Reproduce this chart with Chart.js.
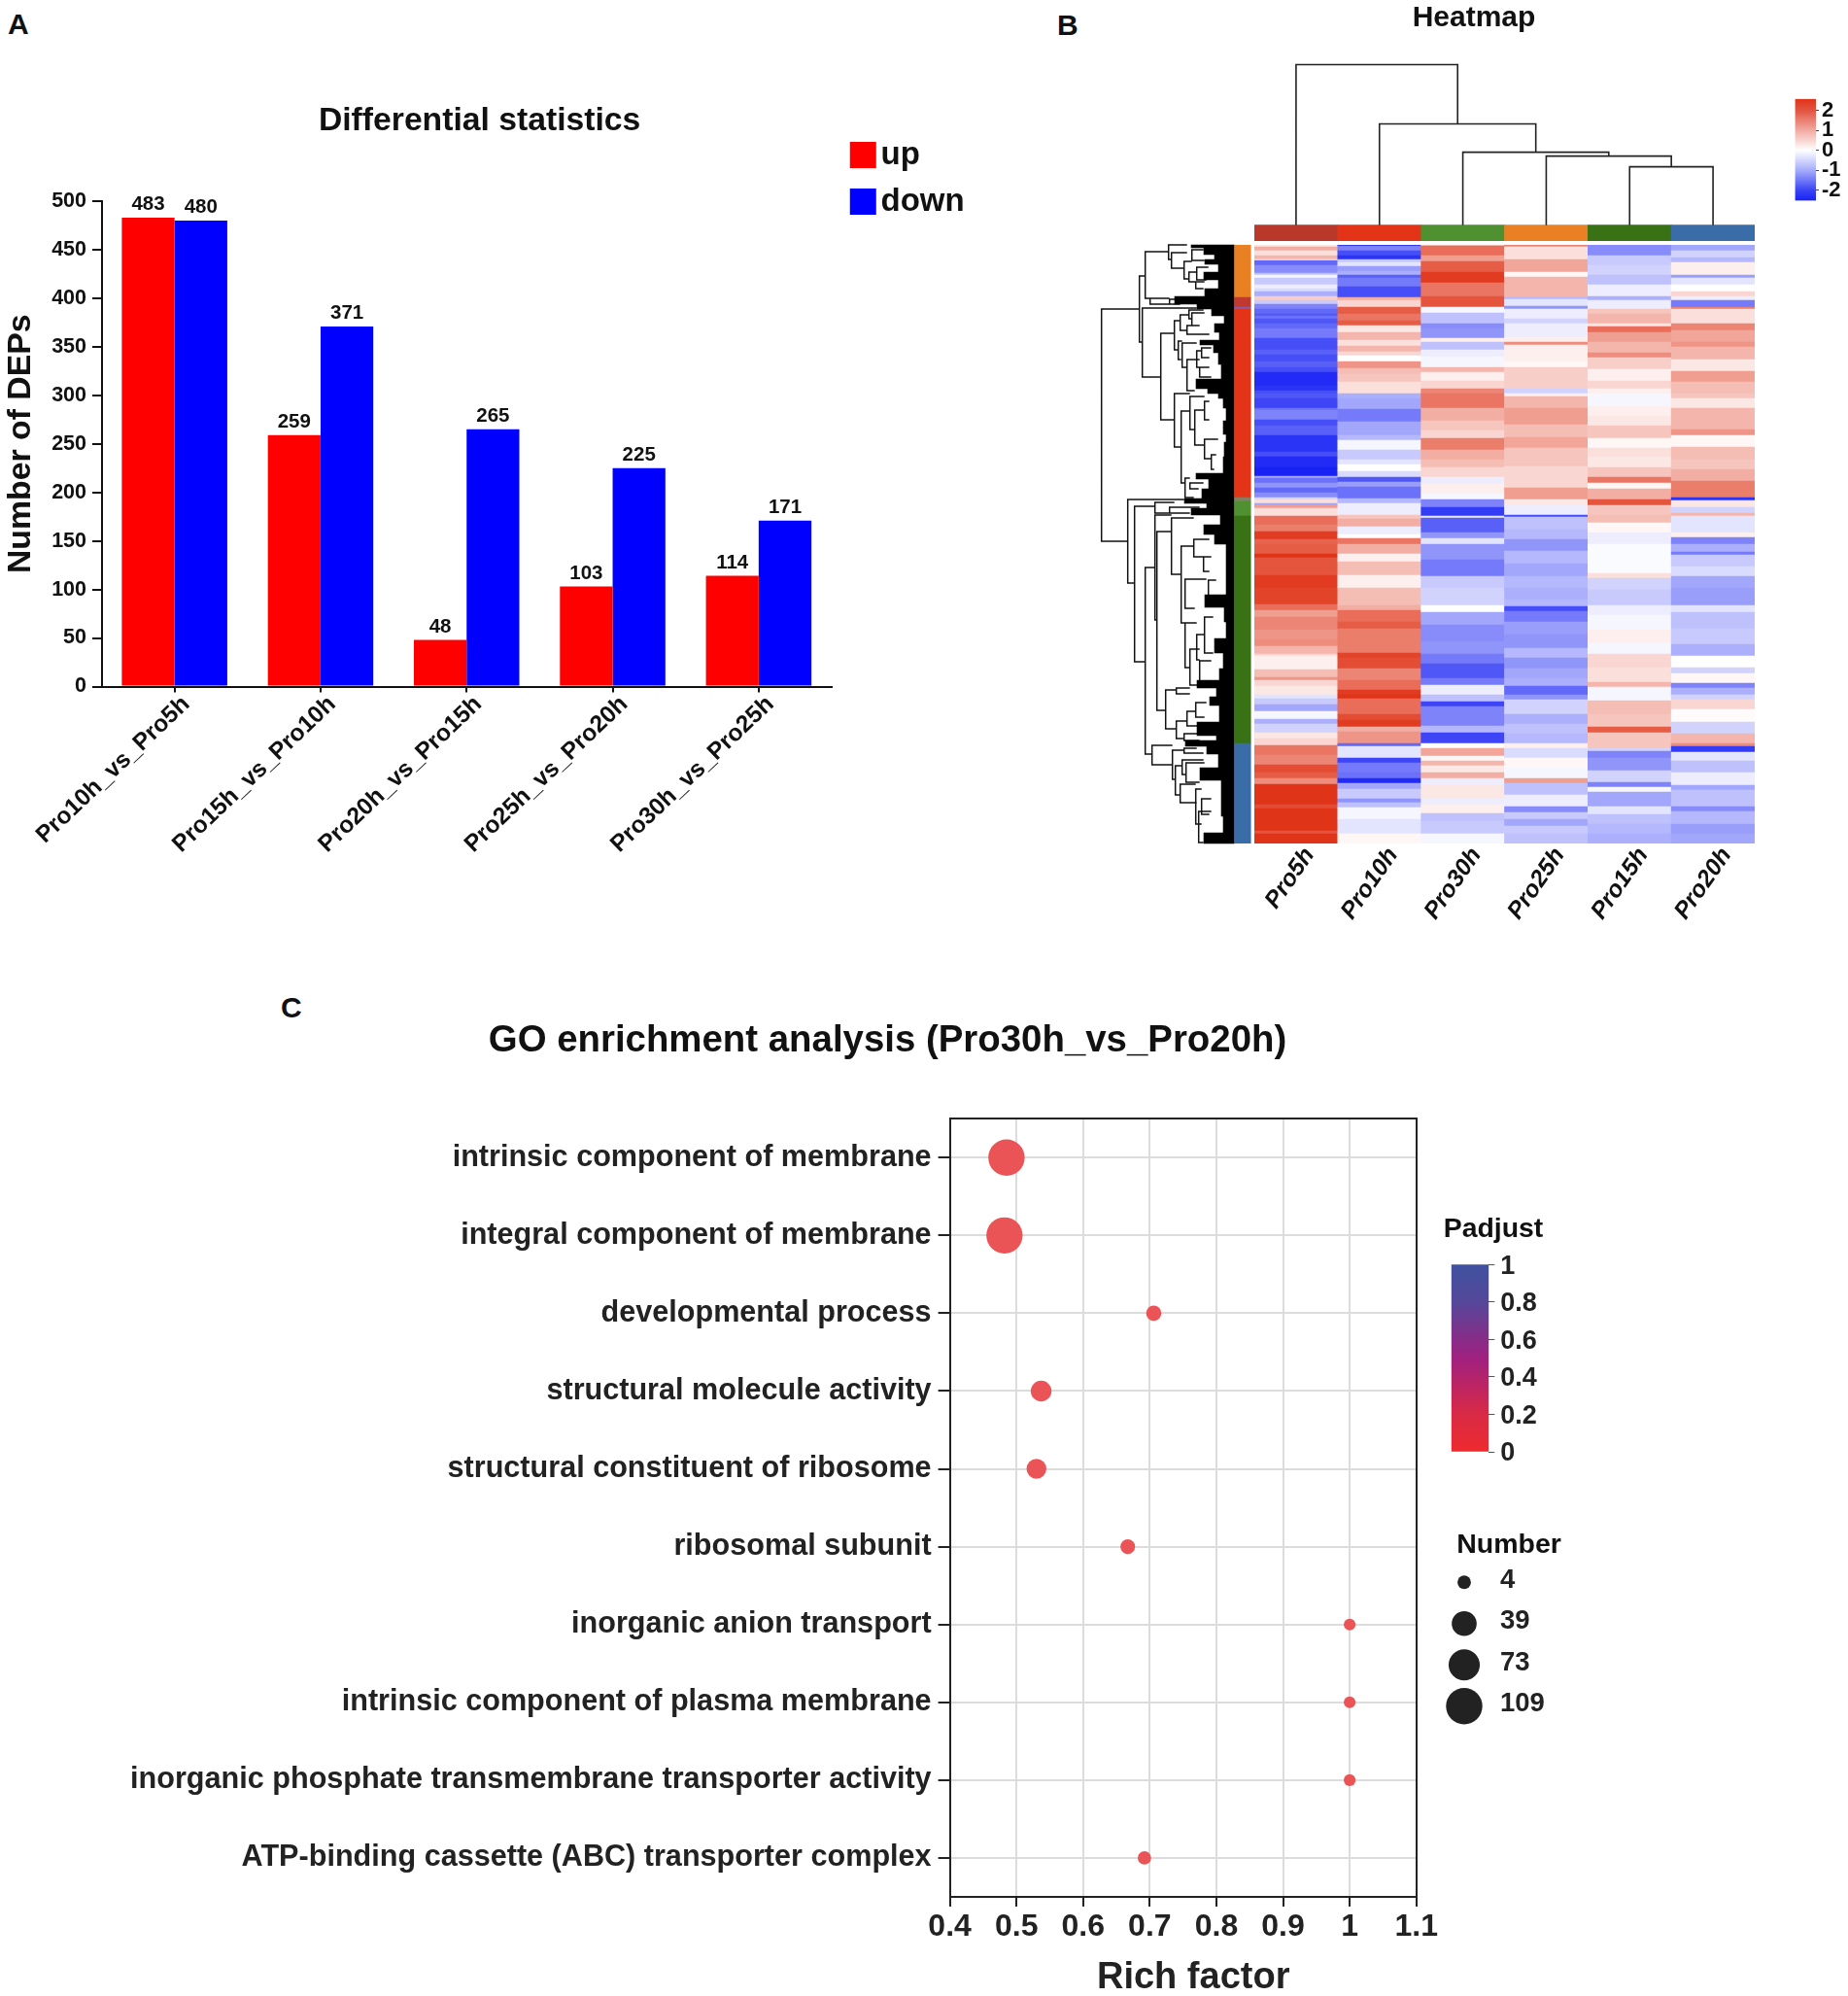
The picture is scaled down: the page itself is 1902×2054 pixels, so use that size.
<!DOCTYPE html>
<html><head><meta charset="utf-8">
<script src="https://cdn.jsdelivr.net/npm/chart.js@4"></script>
<style>
html,body{margin:0;padding:0;background:#fff;width:1902px;height:2054px;overflow:hidden;position:relative}
canvas{position:absolute;display:block}
.tag{position:absolute;font:bold 30px/30px "Liberation Sans",Arial,sans-serif;color:#111}
</style></head><body>
<div class="tag" style="left:8px;top:10px">A</div>
<div class="tag" style="left:1088px;top:11px">B</div>
<div class="tag" style="left:289px;top:1022px">C</div>
<script>
/* ---------- Panel A ---------- */
const deCategories=['Pro10h_vs_Pro5h','Pro15h_vs_Pro10h','Pro20h_vs_Pro15h','Pro25h_vs_Pro20h','Pro30h_vs_Pro25h'];
const deUp=[483,259,48,103,114];
const deDown=[480,371,265,225,171];

/* ---------- Panel B: heatmap. Each column: [last row of run, z-score] ---------- */
const heatColumns=['Pro5h','Pro10h','Pro30h','Pro25h','Pro15h','Pro20h'];
const columnBand=['#b9382a','#e33418','#4f9130','#e98023','#387214','#3a6ca8'];
const zPro5h=[[2,.3],[6,1],[11,.4],[15,.9],[16,.1],[21,-1.7],[29,-1.3],[31,-.7],[34,-.1],[41,-.6],[45,-.2],[48,-.4],[53,-.9],[57,.6],[61,-.6],[66,-1.4],[71,-1.7],[73,-1.9],[76,-1.6],[81,-1.9],[86,-1.7],[96,-1.5],[108,-2],[113,-1.8],[120,-2],[126,-1.8],[131,-2],[145,-2.4],[150,-2.3],[153,-2],[158,-1.9],[168,-2.1],[170,-1.6],[180,-1.4],[186,-2],[196,-1.8],[213,-2.3],[218,-2],[229,-2.4],[238,-2.5],[240,-1],[245,-1.6],[250,-1.2],[255,-1.7],[260,-1.3],[262,-.5],[266,.4],[268,-1],[271,1.2],[279,.4],[288,1.8],[295,1.6],[303,2.4],[308,1.9],[318,2],[322,2.5],[340,2.1],[353,2.4],[360,2.3],[370,2.3],[376,1.8],[383,1.2],[396,1.5],[406,1.3],[413,1.4],[421,.9],[423,.5],[437,.2],[445,.8],[448,1.3],[454,.5],[463,.3],[467,-.3],[473,-.6],[480,-1],[488,-.1],[493,-.9],[502,-.5],[508,.3],[515,.5],[525,1.7],[535,1.5],[543,2.2],[549,2],[555,1.4],[576,2.5],[580,2.2],[603,2.5],[606,2.1],[616,2.5]];
const zPro10h=[[1,-2.5],[6,-1.4],[11,-2],[15,-2.3],[18,-.6],[22,-.3],[27,-1.1],[31,-.9],[34,-1.8],[43,-1.5],[54,-2],[57,1],[64,.5],[71,2],[78,1.7],[83,2],[90,.3],[98,.9],[104,.4],[110,.9],[114,.5],[120,0],[127,1.3],[133,.8],[141,.7],[153,.4],[158,-.9],[169,-1],[182,-1.5],[196,-1],[201,-.8],[211,-.1],[221,-.6],[226,-.3],[233,0],[239,-.4],[244,-1.9],[249,-1.1],[261,-1.6],[266,-.8],[278,-.2],[282,.7],[290,1],[298,-.2],[302,0],[308,1.7],[318,1],[326,.2],[340,.8],[353,.2],[371,.8],[376,1],[388,1.8],[395,2],[408,1.6],[420,1.6],[425,2.3],[436,2.2],[448,1.5],[458,1.8],[463,2.4],[467,2.5],[483,1.8],[489,2.2],[496,2.4],[501,1],[513,1.3],[516,-1.7],[528,-.3],[533,-2.1],[543,-1.5],[549,-1.6],[554,-2.4],[560,-1],[570,-.6],[574,-1.2],[579,-.7],[591,-.1],[606,-.3],[616,.1]];
const zPro30h=[[1,.6],[11,1.8],[17,1.2],[28,2],[39,2.4],[53,1.7],[64,2.1],[70,-.1],[81,-.7],[86,-1.3],[96,-1.2],[100,.2],[108,-.7],[115,-.2],[126,-.1],[131,.9],[140,.2],[148,.5],[153,1.5],[168,1.7],[181,1],[191,.7],[199,.5],[211,1.6],[221,1],[229,.8],[239,.5],[246,-.2],[256,.2],[262,-.1],[270,-1.4],[279,-2.2],[281,-.2],[296,-1.8],[302,-1.2],[308,-.3],[324,-1.2],[341,-1.5],[353,-.6],[371,-.5],[378,0],[391,-1],[408,-1.3],[421,-1.2],[431,-1.5],[446,-1.9],[453,-1.5],[463,-.2],[470,-.7],[475,-2.1],[495,-1.4],[502,-.8],[513,-2.1],[518,0],[526,1.1],[531,.1],[536,.9],[543,.3],[549,1],[556,-.2],[570,.3],[576,-.2],[585,.2],[593,-.7],[606,-.6],[616,-.1]];
const zPro25h=[[2,1.5],[15,.4],[28,1.1],[33,.1],[45,.9],[54,.9],[56,-.8],[63,-.3],[66,-1.2],[76,-.2],[81,-.5],[95,-.2],[100,.2],[103,1.4],[120,.2],[126,.1],[133,.6],[148,.6],[153,-.5],[156,.2],[168,.9],[185,1.2],[198,.8],[209,1.1],[228,.7],[239,.5],[250,.5],[262,1.2],[268,.3],[278,-.2],[280,-2],[293,-.7],[303,-.8],[308,-1.2],[315,-1.2],[328,-.8],[341,-1],[353,-.8],[365,-.9],[372,-.8],[377,-2],[388,-1.5],[401,-1.1],[415,-1.2],[425,-.8],[436,-1.2],[446,-1],[454,-.9],[463,-1.7],[468,-1.2],[483,-.5],[493,-.9],[503,-.7],[513,-.8],[518,.2],[528,-.4],[538,.1],[549,-.1],[554,1.2],[566,-.7],[578,-.2],[584,-1.3],[591,-.6],[598,-1],[606,-.6],[616,-.7]];
const zPro15h=[[11,-1.3],[21,-.6],[31,-.5],[41,-.7],[53,-.2],[57,-.9],[66,-.2],[71,.7],[81,.9],[84,.3],[90,1.8],[100,1.2],[111,.9],[116,1.4],[128,.6],[140,.2],[148,.5],[153,.2],[166,-.1],[176,.2],[186,.3],[199,.7],[209,.1],[218,.4],[229,.3],[239,.7],[245,1.7],[251,.1],[262,1],[268,2.1],[278,.7],[286,.8],[296,.1],[308,-.2],[315,-.05],[338,-.05],[343,.4],[355,-.5],[371,-.6],[381,-.2],[396,-.1],[410,.2],[421,-.1],[435,.5],[450,.4],[455,.9],[463,-.1],[469,-.1],[483,.8],[496,.7],[502,2],[518,.7],[521,-.5],[528,-1.4],[541,-1.2],[553,-.5],[558,-1.4],[563,-.1],[578,-1],[586,-.3],[596,-.7],[606,-.8],[616,-.9]];
const zPro20h=[[6,-1],[13,-.5],[18,-.8],[31,.2],[34,-1.1],[41,-.3],[48,0],[53,.5],[57,-.2],[64,-1.5],[66,1.6],[81,.4],[88,1.5],[100,1.1],[105,1.3],[118,.9],[130,.3],[141,1.2],[153,.8],[158,.7],[168,.3],[190,.9],[196,1.3],[208,.1],[221,.8],[231,.7],[243,1],[260,1.6],[263,-2.3],[270,.3],[276,-.5],[279,.9],[296,-.3],[301,.2],[308,-1.4],[316,-.9],[319,-1.5],[331,-.6],[341,-.4],[353,-1],[371,-1.1],[378,-.3],[395,-.7],[411,-.6],[423,-.9],[435,0],[441,-.5],[451,.1],[456,-1.4],[463,-.9],[468,-.5],[478,.5],[491,.05],[503,-.5],[513,.9],[516,1.4],[522,-2.2],[531,-.3],[543,-.7],[556,-.2],[561,-1],[578,-.7],[583,-1.3],[596,-.8],[606,-1.1],[616,-1]];
const heatRuns=[zPro5h,zPro10h,zPro30h,zPro25h,zPro15h,zPro20h];

/* row clusters: [last row, colour] */
const clusterEnds=[54,64,66,260,264,279,513,616];
const clusterColors=['#e98023','#c0392f','#8a5aa8','#e33418','#808060','#4f9130','#387214','#3a6ca8'];

/* column tree: [left position, right position, height] */
const columnTree=[[4.5,5.5,60],[3.5,5,71],[2.5,4.25,75],[1.5,3.375,104],[.5,2.4375,165]];

/* row tree: [depth, top row, top child depth, bottom row, bottom child depth] */
const rowTree=[[137,66,98,305,110],[98,32,92,100,95],[92,7,68,55,87],[68,0,49,15,65],[65,8,49,24,52],[52,17,44,35,47],[47,28,39,38,40],[40,38,31,45,32],[39,23,27,36,29],[44,5,32,16,31],[87,55,67,61,62],[67,56,49,61,56],[95,65,39,136,76],[76,91,62,180,62],[62,78,56,108,58],[56,72,47,88,49],[47,67,32,76,44],[44,70,31,83,41],[49,83,36,92,26],[58,99,54,118,55],[54,101,39,126,49],[49,118,36,150,41],[39,109,34,126,34],[34,106,24,116,26],[36,126,26,136,24],[62,153,46,208,55],[46,156,31,190,41],[41,170,31,206,31],[31,161,26,180,26],[31,200,17,220,24],[24,216,19,231,21],[55,171,46,245,51],[51,240,46,260,42],[46,245,32,251,37],[110,262,52,348,103],[103,269,82,429,92],[82,265,62,276,67],[67,270,36,276,46],[92,332,82,524,85],[82,278,65,386,80],[80,295,65,479,71],[65,281,42,339,55],[55,310,42,389,46],[42,303,26,321,32],[32,321,24,336,26],[51,344,29,374,41],[27,345,19,368,21],[46,416,36,453,31],[51,389,39,435,46],[39,401,31,427,36],[31,383,22,420,22],[36,428,24,450,26],[71,458,60,498,60],[60,456,46,462,46],[60,490,49,508,52],[49,480,40,495,34],[40,471,29,486,31],[52,503,36,510,36],[85,515,64,535,64],[64,520,52,550,61],[52,518,39,523,32],[61,536,54,566,56],[54,530,32,545,50],[50,533,31,553,36],[56,555,40,574,39],[40,560,34,596,34],[34,570,24,586,26],[37,583,24,615,32]];
/* dense leaf region of the row tree: [last row, depth reached] */
const leafMass=[[3,45],[10,32],[15,21],[20,31],[28,17],[36,32],[45,17],[53,31],[61,62],[66,39],[73,24],[81,11],[90,21],[98,16],[103,36],[111,22],[123,17],[138,14],[148,40],[153,28],[158,17],[168,12],[181,9],[195,12],[203,9],[218,11],[235,12],[241,40],[251,27],[261,34],[266,52],[271,29],[278,45],[288,15],[298,32],[308,21],[316,9],[336,9],[360,9],[373,31],[388,11],[405,9],[420,21],[436,12],[448,16],[456,39],[465,19],[474,26],[491,16],[505,39],[510,19],[516,51],[524,29],[538,17],[551,36],[568,14],[588,14],[605,12],[616,32]];

/* ---------- Panel C ---------- */
const goTerms=['intrinsic component of membrane','integral component of membrane','developmental process','structural molecule activity','structural constituent of ribosome','ribosomal subunit','inorganic anion transport','intrinsic component of plasma membrane','inorganic phosphate transmembrane transporter activity','ATP-binding cassette (ABC) transporter complex'];
const richFactor=[.485,.482,.706,.537,.53,.667,1,1,1,.692];
const goNumber=[109,108,7,22,19,6,2,2,2,4];
const sizeLegend=[4,39,73,109];
const padjustTicks=[0,.2,.4,.6,.8,1];

const FONT='"Liberation Sans",Arial,sans-serif';
Chart.defaults.font.family=FONT;
Chart.defaults.font.weight='bold';
Chart.defaults.color='#111';
Chart.defaults.animation=false;
const ink='#111';

const zero=s=>{s.paddingLeft=s.paddingRight=s.paddingTop=s.paddingBottom=0};
const fixW=w=>s=>{s.width=w;zero(s)};
const fixH=h=>s=>{s.height=h;zero(s)};
const pad=(b,a,o={})=>({left:a.L-b.x-(o.l||0),right:b.x+b.w-a.R-(o.r||0),top:a.T-b.y-(o.t||0),bottom:b.y+b.h-a.B-(o.b||0)});
const plain=v=>String(+(+v).toFixed(1));

function place(item,left,top){const w=item.right-item.left,h=item.bottom-item.top;item.left=left;item.top=top;item.right=left+w;item.bottom=top+h;}
function mk(box,cfg,spot){
  const c=document.createElement('canvas');
  c.width=box.w;c.height=box.h;c.style.left=box.x+'px';c.style.top=box.y+'px';
  c.style.width=box.w+'px';c.style.height=box.h+'px';
  document.body.appendChild(c);
  cfg.options=Object.assign({responsive:false,maintainAspectRatio:false,devicePixelRatio:1},cfg.options);
  cfg.plugins=(cfg.plugins||[]).concat([{id:'placer',beforeDraw(ch){
    if(spot&&spot.title&&ch.titleBlock){const t=ch.titleBlock,h=t.height;t.left=spot.title[0]-box.x-700;t.right=spot.title[0]-box.x+700;t.top=spot.title[1]-box.y-h/2;t.bottom=t.top+h;}
    if(spot&&spot.legend&&ch.legend){place(ch.legend,spot.legend[0]-box.x,spot.legend[1]-box.y);}
  }}]);
  return new Chart(c,cfg);
}
const ttl=(text,size)=>({display:true,text,font:{size,weight:'bold',lineHeight:1.2},color:ink,padding:0});

/* Panel A */
(function(){
 const box={x:0,y:95,w:1060,h:800},a={L:104.5,R:856,T:207,B:706.5};
 mk(box,{type:'bar',data:{labels:deCategories,datasets:[
   {label:'up',data:deUp,backgroundColor:'#ff0000'},
   {label:'down',data:deDown,backgroundColor:'#0000ff'}]},
  options:{layout:{padding:pad(box,a,{l:104.5,b:box.y+box.h-a.B,t:40.4})},
   datasets:{bar:{categoryPercentage:.722,barPercentage:1}},
   plugins:{title:ttl('Differential statistics',33.7),
    legend:{display:true,position:'chartArea',align:'start',labels:{usePointStyle:true,pointStyle:'rect',boxWidth:3.5,boxHeight:27,padding:15,color:ink,font:{size:33,weight:'bold',lineHeight:1.2}}},
    tooltip:{enabled:false}},
   scales:{
    x:{afterFit:fixH(box.y+box.h-a.B),grid:{offset:false,drawOnChartArea:false,color:ink,lineWidth:2,tickLength:6},border:{color:ink,width:2},
       ticks:{minRotation:43.5,maxRotation:43.5,autoSkip:false,padding:-2,labelOffset:12,color:ink,font:{size:24.5,weight:'bold'}}},
    y:{min:0,max:500,afterFit:fixW(104.5),grid:{drawOnChartArea:false,color:ink,lineWidth:2,tickLength:9.5},border:{color:ink,width:2},
       ticks:{stepSize:50,padding:6,color:ink,font:{size:21.5,weight:'bold'}},
       title:{display:true,text:'Number of DEPs',color:ink,padding:{top:1,bottom:0},font:{size:33.8,weight:'bold',lineHeight:1.2}}}
   }},
  plugins:[{id:'barValues',afterDatasetsDraw(ch){const g=ch.ctx;g.save();g.font='bold 20.5px '+FONT;g.fillStyle=ink;g.textAlign='center';g.textBaseline='bottom';
    ch.data.datasets.forEach((d,i)=>ch.getDatasetMeta(i).data.forEach((el,j)=>g.fillText(d.data[j],el.x,el.y-3)));g.restore();}}]
 },{title:[493.6,124.5],legend:[871.5,128]});
})();

/* Panel B: heatmap cells */
const mix=z=>{const t=Math.min(Math.abs(z)/2.5,1),e=z>=0?[224,52,24]:[24,34,245];return `rgb(${e.map(v=>Math.round(255+(v-255)*t)).join(',')})`};
(function(){
 const box={x:1280,y:245,w:560,h:760},a={L:1291,R:1806,T:252,B:868};
 const cells=[],fills=[];
 heatRuns.forEach((runs,c)=>{let s=0;runs.forEach(([end,z])=>{cells.push({x:heatColumns[c],y:[s,end]});fills.push(mix(z));s=end;});});
 mk(box,{type:'bar',data:{labels:heatColumns,datasets:[{label:'z-score',data:cells,backgroundColor:fills,borderWidth:0,categoryPercentage:1,barPercentage:1}]},
  options:{layout:{padding:pad(box,a,{b:box.y+box.h-a.B})},plugins:{legend:{display:false},tooltip:{enabled:false}},
   scales:{
    x:{afterFit:fixH(box.y+box.h-a.B),grid:{display:false},border:{display:false},
       ticks:{minRotation:55,maxRotation:55,autoSkip:false,padding:-9,labelOffset:14,color:ink,font:{size:24.5,weight:'bold',style:'italic'}}},
    y:{type:'linear',reverse:true,min:0,max:616,display:false}
   }}});
})();

/* Column tree and colour band, with the heatmap title */
(function(){
 const box={x:1285,y:0,w:530,h:255},a={L:1291,R:1806,T:66.5,B:248};
 const lines=[];
 columnTree.forEach(([l,r,h],i)=>{
   const base=v=>{const n=columnTree.slice(0,i).find(([p,q])=>(p+q)/2===v);return n?n[2]:0};
   lines.push({x:l,y:base(l)},{x:l,y:h},{x:r,y:h},{x:r,y:base(r)},{x:null,y:null});
 });
 mk(box,{type:'bar',data:{datasets:[
   {type:'scatter',label:'tree',data:lines,showLine:true,borderColor:'#222',borderWidth:1.6,pointRadius:0,clip:false},
   {type:'bar',label:'band',data:heatColumns.map((_,i)=>({x:i+.5,y:[-16.3,0]})),backgroundColor:columnBand,borderWidth:0,categoryPercentage:1,barPercentage:1}
  ]},
  options:{layout:{padding:pad(box,a,{t:36})},plugins:{title:ttl('Heatmap',30),legend:{display:false},tooltip:{enabled:false}},
   scales:{x:{type:'linear',min:0,max:6,offset:false,display:false},y:{min:-16.3,max:165,display:false}}}
 },{title:[1517,19]});
})();

/* Row tree */
(function(){
 const box={x:1125,y:245,w:150,h:630},a={L:1133,R:1270.7,T:252,B:868};
 const branches=[];
 rowTree.forEach(([d,r1,d1,r2,d2])=>branches.push({x:d1,y:r1},{x:d,y:r1},{x:d,y:r2},{x:d2,y:r2},{x:null,y:null}));
 const mass=[];let s=0;
 leafMass.forEach(([end,depth])=>{for(let r=s;r<end;r++){mass.push({x:depth,y:r+.5},{x:0,y:r+.5},{x:null,y:null});}s=end;});
 mk(box,{type:'scatter',data:{datasets:[
   {label:'leaves',data:mass,showLine:true,borderColor:'#000',borderWidth:1.3,pointRadius:0,clip:false},
   {label:'branches',data:branches,showLine:true,borderColor:'#111',borderWidth:1.5,pointRadius:0,clip:false}]},
  options:{layout:{padding:pad(box,a)},plugins:{legend:{display:false},tooltip:{enabled:false}},
   scales:{x:{type:'linear',reverse:true,min:0,max:137.7,display:false},y:{type:'linear',reverse:true,min:0,max:616,display:false}}}});
})();

/* Row cluster band */
(function(){
 const box={x:1265,y:245,w:28,h:630},a={L:1270.3,R:1287.6,T:252,B:868};
 let s=0;const seg=clusterEnds.map(e=>{const v={x:'rows',y:[s,e]};s=e;return v;});
 mk(box,{type:'bar',data:{labels:['rows'],datasets:[{label:'cluster',data:seg,backgroundColor:clusterColors,borderWidth:0,categoryPercentage:1,barPercentage:1}]},
  options:{layout:{padding:pad(box,a)},plugins:{legend:{display:false},tooltip:{enabled:false}},
   scales:{x:{display:false},y:{type:'linear',reverse:true,min:0,max:616,display:false}}}});
})();

/* Heatmap colour bar */
(function(){
 const box={x:1840,y:80,w:62,h:145},a={L:1847.5,R:1869,T:101.8,B:206.4};
 mk(box,{type:'bar',data:{labels:['z'],datasets:[{label:'scale',data:[[-2.52,2.58]],borderWidth:0,categoryPercentage:1,barPercentage:1,
   backgroundColor(ctx){const ca=ctx.chart.chartArea;if(!ca)return '#fff';const y=ctx.chart.scales.y,g=ctx.chart.ctx.createLinearGradient(0,ca.top,0,ca.bottom);
     const f=v=>(y.getPixelForValue(v)-ca.top)/(ca.bottom-ca.top);
     g.addColorStop(0,'#e0341a');g.addColorStop(f(2),'#e2543f');g.addColorStop(f(1),'#f2aaa2');g.addColorStop(f(0),'#ffffff');g.addColorStop(f(-1),'#a5acfb');g.addColorStop(f(-2),'#3b45f5');g.addColorStop(1,'#1822f5');return g;}}]},
  options:{layout:{padding:pad(box,a,{r:box.x+box.w-a.R})},plugins:{legend:{display:false},tooltip:{enabled:false}},
   scales:{x:{display:false},y:{position:'right',min:-2.52,max:2.58,afterFit:fixW(box.x+box.w-a.R),grid:{drawOnChartArea:false,color:'#444',lineWidth:1,tickLength:3},border:{display:false},
     ticks:{stepSize:1,includeBounds:false,autoSkip:false,padding:3,color:ink,font:{size:22,weight:'bold'}}}}}
 });
})();
/* Panel C dots */
const dotR=n=>4.1+1.4*Math.sqrt(n);
(function(){
 const box={x:100,y:1030,w:1400,h:1024},a={L:977.6,R:1457.7,T:1151.2,B:1952};
 const line='#222',grid='#dcdcdc';
 mk(box,{type:'bubble',data:{datasets:[{label:'GO terms',data:goTerms.map((t,i)=>({x:richFactor[i],y:t,r:dotR(goNumber[i])})),backgroundColor:'#ea5456',borderWidth:0}]},
  options:{layout:{padding:pad(box,a,{l:a.L-box.x,b:box.y+box.h-a.B,t:46.1})},
   plugins:{title:ttl('GO enrichment analysis (Pro30h_vs_Pro20h)',38.4),legend:{display:false},tooltip:{enabled:false}},
   scales:{
    x:{type:'linear',min:.4,max:1.1,afterFit:fixH(box.y+box.h-a.B),grid:{color:grid,lineWidth:2,tickColor:line,tickLength:10},border:{color:line,width:2},
       ticks:{stepSize:.1,padding:2,color:line,callback:plain,font:{size:32,weight:'bold'}},
       title:{display:true,text:'\u00a0\u00a0Rich factor',color:line,padding:0,font:{size:38,weight:'bold',lineHeight:.95}}},
    y:{type:'category',labels:goTerms,offset:true,afterFit:fixW(a.L-box.x),grid:{color:grid,lineWidth:2,tickColor:line,tickLength:12},border:{color:line,width:2},
       ticks:{autoSkip:false,padding:7,color:line,font:{size:30.6,weight:'bold'}}},
    xTop:{type:'linear',position:'top',min:.4,max:1.1,afterFit:fixH(0),grid:{display:false},ticks:{display:false},border:{color:line,width:2}},
    yRight:{type:'linear',position:'right',min:0,max:1,afterFit:fixW(0),grid:{display:false},ticks:{display:false},border:{color:line,width:2}}
   }}},{title:[913.5,1071]});
})();

/* Padjust colour bar */
(function(){
 const box={x:1480,y:1240,w:200,h:275},a={L:1493.7,R:1532.3,T:1301.3,B:1494};
 mk(box,{type:'bar',data:{labels:['p'],datasets:[{label:'Padjust',data:[[0,1]],borderWidth:0,categoryPercentage:1,barPercentage:1,
   backgroundColor(ctx){const ca=ctx.chart.chartArea;if(!ca)return '#fff';const g=ctx.chart.ctx.createLinearGradient(0,ca.top,0,ca.bottom);
     g.addColorStop(0,'#3f52a0');g.addColorStop(.2,'#55479a');g.addColorStop(.5,'#a0207f');g.addColorStop(.8,'#d92a45');g.addColorStop(1,'#ee2a2e');return g;}}]},
  options:{layout:{padding:pad(box,a,{t:34.2,r:box.x+box.w-a.R})},plugins:{title:ttl('Padjust',28.4),legend:{display:false},tooltip:{enabled:false}},
   scales:{x:{display:false},y:{position:'right',min:0,max:1,afterFit:fixW(box.x+box.w-a.R),grid:{drawOnChartArea:false,color:'#555',lineWidth:1,tickLength:6},border:{display:false},
     afterBuildTicks(s){s.ticks=padjustTicks.map(v=>({value:v}));},
     ticks:{padding:6,labelOffset:2,color:'#222',callback:plain,font:{size:27,weight:'bold'}}}}}
 },{title:[1537,1265]});
})();

/* Number size legend */
(function(){
 const box={x:1430,y:1560,w:240,h:250},a={L:1470,R:1534,T:1607,B:1777};
 const labels=sizeLegend.map(String);
 mk(box,{type:'bubble',data:{datasets:[{label:'Number',data:sizeLegend.map((n,i)=>({x:.578,y:labels[i],r:dotR(n)})),backgroundColor:'#222',borderWidth:0,clip:false}]},
  options:{layout:{padding:pad(box,a,{t:34.2,r:box.x+box.w-a.R})},plugins:{title:ttl('Number',28.5),legend:{display:false},tooltip:{enabled:false}},
   scales:{x:{type:'linear',min:0,max:1,display:false},
    y:{type:'category',labels,offset:true,position:'right',afterFit:fixW(box.x+box.w-a.R),grid:{display:false},border:{display:false},
      ticks:{autoSkip:false,padding:2,labelOffset:-2,color:'#222',font:{size:27.5,weight:'bold'}}}}}
 },{title:[1553,1590]});
})();
</script>
</body></html>
